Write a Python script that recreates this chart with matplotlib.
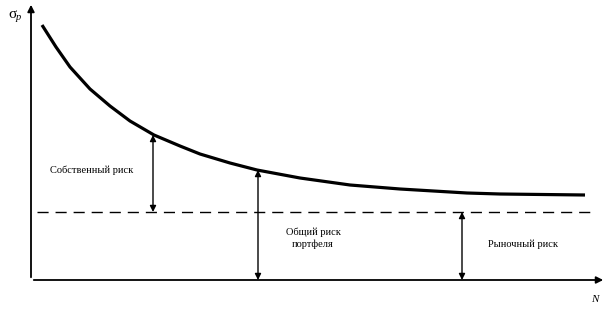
import numpy as np
import matplotlib
matplotlib.use("Agg")
import matplotlib.pyplot as plt

plt.rcParams['font.family'] = ['Liberation Serif', 'DejaVu Serif']

# values (origin at the axes corner)
n_vals = [11, 25, 39, 59, 79, 99, 123, 149, 169, 199, 226, 269, 319, 369, 436, 469, 554]
sigma_vals = [255, 233, 213, 191, 174, 159, 145, 134, 126, 117, 110, 102, 95, 91, 87, 86, 85]
market_risk = 68
arrow_n = [122, 227, 431]        # own risk, total risk, market risk
arrow_from = [145, 110, market_risk]
arrow_to = [market_risk, 0, 0]

fig = plt.figure(figsize=(6.08, 3.14), dpi=100)
ax = fig.add_axes([0, 0, 1, 1])
ax.set_xlim(-31, 577)
ax.set_ylim(-34, 280)
ax.axis('off')

# axes with arrows
ax.annotate('', xy=(0, 278), xytext=(0, 0),
            arrowprops=dict(arrowstyle='-|>', color='black', lw=1.3, mutation_scale=10))
ax.annotate('', xy=(575, 0), xytext=(0, 0),
            arrowprops=dict(arrowstyle='-|>', color='black', lw=1.3, mutation_scale=10))

ax.plot(n_vals, sigma_vals, color='black', lw=2.3, solid_capstyle='butt',
        solid_joinstyle='round')
ax.plot([6, 565], [market_risk, market_risk], color='black', lw=1, dashes=(8, 5))

for x, y0, y1 in zip(arrow_n, arrow_from, arrow_to):
    ax.annotate('', xy=(x, y1), xytext=(x, y0),
                arrowprops=dict(arrowstyle='<|-|>', color='black', lw=1,
                                mutation_scale=9, shrinkA=0, shrinkB=0))

ax.text(61, 110, 'Собственный риск', fontsize=7.5, ha='center', va='center')
ax.text(282, 42, 'Общий риск\nпортфеля', fontsize=7.5, ha='center', va='center',
        linespacing=1.3)
ax.text(492, 36, 'Рыночный риск', fontsize=7.5, ha='center', va='center')
ax.text(560, -20, 'N', fontsize=8, style='italic', ha='left', va='center')
ax.text(-23, 266, 'σ', fontsize=11, ha='left', va='center')
ax.text(-15, 262, 'p', fontsize=7.5, style='italic', ha='left', va='center')

fig.savefig('out.png', dpi=100)
